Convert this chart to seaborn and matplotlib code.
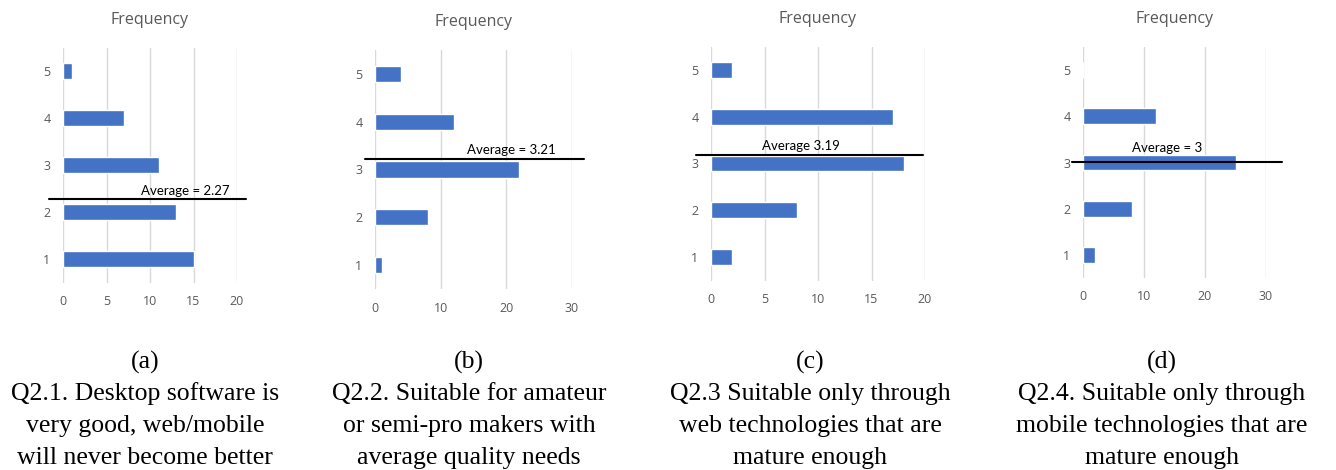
import matplotlib
matplotlib.use("Agg")
import matplotlib.pyplot as plt
import matplotlib.transforms as mtransforms
import seaborn as sns
import pandas as pd

# --- data ---
ratings = [1, 2, 3, 4, 5]
freq_a = [15, 13, 11, 7, 1]
freq_b = [1, 8, 22, 12, 4]
freq_c = [2, 8, 18, 17, 2]
freq_d = [2, 8, 25, 12, 0]
averages = [2.27, 3.21, 3.19, 3.0]
avg_labels = ["Average = 2.27", "Average = 3.21", "Average 3.19", "Average = 3"]
xmax = [20, 30, 20, 30]
xtick_step = [5, 10, 5, 10]
panel_tags = ["(a)", "(b)", "(c)", "(d)"]
captions = [
    ["Q2.1. Desktop software is", "very good, web/mobile", "will never become better"],
    ["Q2.2. Suitable for amateur", "or semi-pro makers with", "average quality needs"],
    ["Q2.3 Suitable only through", "web technologies that are", "mature enough"],
    ["Q2.4. Suitable only through", "mobile technologies that are", "mature enough"],
]

sns.set_style("white")
plt.rcParams["font.family"] = ["Open Sans", "DejaVu Sans"]

W, H = 1336, 470
fig = plt.figure(figsize=(W / 100, H / 100), dpi=100)

# axes boxes in pixels: left, right (x=0..xmax), top (y=5.5), bottom (y=0.5)
boxes = [
    (63, 237, 47.5, 282.5),
    (375, 572, 50, 289),
    (711, 925, 46.5, 280.5),
    (1083, 1266, 47, 278),
]
# average line extents (axes fraction), label x (axes fraction), label lift (px)
line_span = [(-0.08, 1.05), (-0.05, 1.06), (-0.07, 0.99), (-0.06, 1.09)]
label_x = [0.70, 0.69, 0.42, 0.46]
label_lift = [8, 9, 9, 14]
caption_x = [145, 469, 810, 1162]

for i, freqs in enumerate([freq_a, freq_b, freq_c, freq_d]):
    l, r, t, b = boxes[i]
    ax = fig.add_axes([l / W, 1 - b / H, (r - l) / W, (b - t) / H])
    df = pd.DataFrame({"rating": ratings, "freq": freqs})
    sns.barplot(data=df, x="freq", y="rating", orient="h", native_scale=True,
                color="#4472C4", width=0.34, saturation=1, ax=ax, zorder=2)
    ax.set_ylim(0.5, 5.5)
    ax.set_xlim(0, xmax[i])
    ax.set_xticks(range(0, xmax[i] + 1, xtick_step[i]))
    ax.set_yticks(ratings)
    ax.xaxis.grid(True, color="#D9D9D9", linewidth=1)
    ax.yaxis.grid(False)
    ax.set_axisbelow(True)
    for s in ax.spines.values():
        s.set_visible(False)
    ax.tick_params(length=0, labelsize=9, labelcolor="#595959", pad=9)
    ax.set_xlabel("")
    ax.set_ylabel("")
    ax.set_title("Frequency", fontsize=11.5, color="#595959", pad=17)

    # average line and its label
    x0, x1 = line_span[i]
    ax.axhline(averages[i], xmin=x0, xmax=x1, color="black", linewidth=1.5,
               clip_on=False, zorder=3)
    trans = mtransforms.blended_transform_factory(ax.transAxes, ax.transData)
    ax.annotate(avg_labels[i], xy=(label_x[i], averages[i]), xycoords=trans,
                xytext=(0, label_lift[i] * 0.72), textcoords="offset points",
                ha="center", va="center", fontsize=9.5,
                family=["Lato", "DejaVu Sans"], color="black", zorder=4)

    # caption under each panel
    fig.text(caption_x[i] / W, 1 - 362 / H, panel_tags[i], ha="center", va="center",
             fontsize=18.5, family=["Liberation Serif"], color="black")
    for j, line in enumerate(captions[i]):
        fig.text(caption_x[i] / W, 1 - (394 + 32 * j) / H, line, ha="center",
                 va="center", fontsize=18.5, family=["Liberation Serif"], color="black")

fig.savefig("out.png", dpi=100)
